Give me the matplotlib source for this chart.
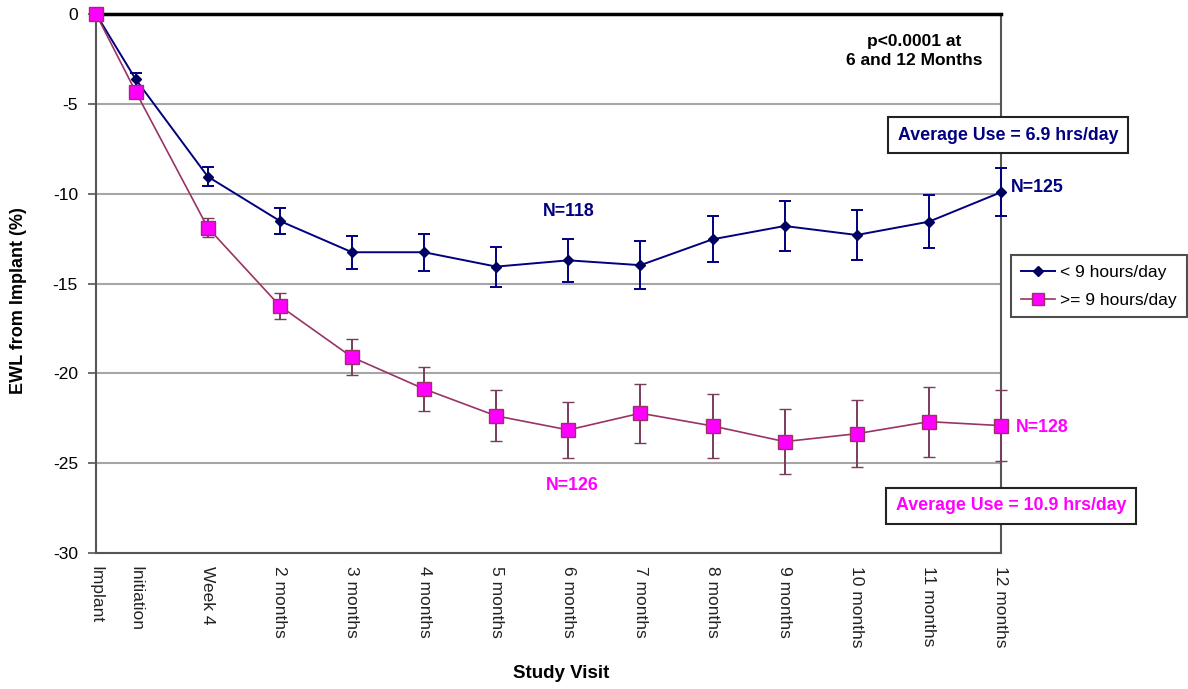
import matplotlib
matplotlib.use("Agg")
import matplotlib.pyplot as plt
from matplotlib.lines import Line2D

plt.rcParams['font.family'] = ['Liberation Sans', 'DejaVu Sans']

# ---- data ----
visits = ["Implant", "Initiation", "Week 4", "2 months", "3 months", "4 months",
          "5 months", "6 months", "7 months", "8 months", "9 months",
          "10 months", "11 months", "12 months"]
visit_month = [-0.55, 0, 1, 2, 3, 4, 5, 6, 7, 8, 9, 10, 11, 12]

low_use = [0, -3.63, -9.05, -11.52, -13.26, -13.26, -14.06, -13.71, -13.98,
           -12.54, -11.80, -12.30, -11.56, -9.92]
low_err = [0, 0.37, 0.54, 0.70, 0.93, 1.02, 1.11, 1.21, 1.32,
           1.29, 1.37, 1.40, 1.47, 1.34]

high_use = [0, -4.32, -11.89, -16.25, -19.10, -20.87, -22.37, -23.15, -22.22,
            -22.93, -23.80, -23.36, -22.69, -22.91]
high_err = [0, 0.30, 0.51, 0.74, 1.02, 1.23, 1.42, 1.55, 1.65,
            1.76, 1.81, 1.85, 1.94, 1.97]

series_labels = ["< 9 hours/day", ">= 9 hours/day"]
y_ticks = [0, -5, -10, -15, -20, -25, -30]

W, H = 1188, 689
fig = plt.figure(figsize=(W / 100, H / 100), dpi=100)
ax = fig.add_axes([96 / W, 1 - 553 / H, (1001 - 96) / W, (553 - 14) / H])

navy = "#000080"
mag_fill = "#FF00FF"
plum = "#993366"
plum_err = "#7a3c5c"


def unclip(container):
    line, caps, bars = container
    line.set_clip_on(False)
    for c in caps:
        c.set_clip_on(False)
    for b in bars:
        b.set_clip_on(False)


c1 = ax.errorbar(visit_month, low_use, yerr=low_err, color=navy, lw=1.4,
                 marker="D", ms=5.5, mfc="#000060", mec="#000060",
                 ecolor=navy, elinewidth=1.4, capsize=4, capthick=1.4, zorder=3)
c2 = ax.errorbar(visit_month, high_use, yerr=high_err, color=plum, lw=1.2,
                 marker="s", ms=10, mfc=mag_fill, mec=plum, mew=1.0,
                 ecolor=plum_err, elinewidth=1.4, capsize=4, capthick=1.4, zorder=4)
unclip(c1)
unclip(c2)

ax.set_xlim(visit_month[0], visit_month[-1])
ax.set_ylim(-30, 0)
ax.set_yticks(y_ticks)
ax.set_yticklabels([str(v) for v in y_ticks], fontsize=12.5)
ax.set_xticks(visit_month)
ax.set_xticklabels(visits, rotation=270, fontsize=12.5, ha="center", va="top",
                   color="#222222")
ax.tick_params(axis="x", length=0, pad=9)
ax.tick_params(axis="y", length=6, width=1.2, pad=7, color="#555555")

ax.grid(axis="y", color="#a6a6a6", lw=1.5, zorder=0)
ax.set_axisbelow(True)
for s in ["left", "bottom", "right"]:
    ax.spines[s].set_color("#555555")
    ax.spines[s].set_linewidth(1.5)
ax.spines["top"].set_color("black")
ax.spines["top"].set_linewidth(2.5)

# axis titles
fig.text(19 / W, 1 - 301 / H, "EWL from Implant (%)", rotation=90,
         fontsize=13, fontweight="bold", ha="center", va="center")
fig.text(561 / W, 1 - 673 / H, "Study Visit", fontsize=13.5,
         fontweight="bold", ha="center", va="center")

# annotations
fig.text(914 / W, 1 - 51 / H, "p<0.0001 at\n6 and 12 Months", fontsize=12.5,
         fontweight="bold", ha="center", va="center", linespacing=1.35)
box = dict(boxstyle="square,pad=0.55", fc="white", ec="#222222", lw=1.5)
fig.text(1008 / W, 1 - 135 / H, "Average Use = 6.9 hrs/day", fontsize=12.8,
         fontweight="bold", color=navy, ha="center", va="center", bbox=box)
fig.text(1011 / W, 1 - 506 / H, "Average Use = 10.9 hrs/day", fontsize=12.8,
         fontweight="bold", color=mag_fill, ha="center", va="center", bbox=box)

fig.text(569 / W, 1 - 211 / H, "N=118", fontsize=12.8, fontweight="bold",
         color=navy, ha="center", va="center")
fig.text(1011 / W, 1 - 188 / H, "N=125", fontsize=12.8, fontweight="bold",
         color=navy, ha="left", va="center")
fig.text(572 / W, 1 - 486 / H, "N=126", fontsize=12.8, fontweight="bold",
         color=mag_fill, ha="center", va="center")
fig.text(1016 / W, 1 - 427 / H, "N=128", fontsize=12.8, fontweight="bold",
         color=mag_fill, ha="left", va="center")

# legend
handles = [
    Line2D([], [], color=navy, lw=1.4, marker="D", ms=5, mfc="#000060", mec="#000060"),
    Line2D([], [], color=plum, lw=1.2, marker="s", ms=9, mfc=mag_fill, mec=plum),
]
leg = fig.legend(handles, series_labels, loc="upper left",
                 bbox_to_anchor=(1011 / W, 1 - 255 / H), fontsize=12.5,
                 frameon=True, fancybox=False, edgecolor="#222222",
                 handlelength=2.0, handletextpad=0.3, borderpad=0.55,
                 labelspacing=0.75, borderaxespad=0)
leg.get_frame().set_linewidth(1.5)

fig.savefig("out.png", dpi=100)
